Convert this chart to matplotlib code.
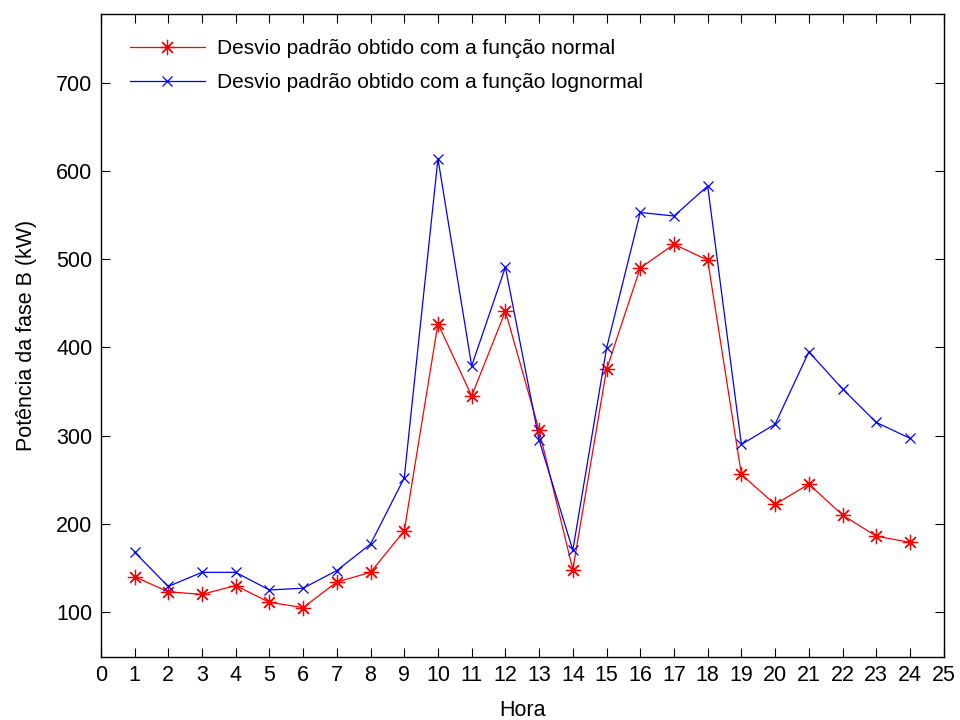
import matplotlib
matplotlib.use("Agg")
import matplotlib.pyplot as plt

hours = list(range(1, 25))
normal = [140, 123, 120, 130, 111, 105, 134, 145, 192, 427, 345, 441, 306, 148,
          375, 490, 517, 499, 256, 222, 245, 210, 186, 179]
lognormal = [168, 129, 145, 145, 125, 127, 147, 177, 252, 614, 379, 491, 295, 170,
             399, 553, 549, 583, 290, 313, 395, 353, 315, 297]
xticks = list(range(0, 26))
yticks = [100, 200, 300, 400, 500, 600, 700]

plt.rcParams['font.family'] = ['Liberation Sans', 'DejaVu Sans']

fig = plt.figure(figsize=(9.6, 7.2), dpi=100)
ax = fig.add_axes([0.105, 0.0875, 0.878, 0.893])

ax.plot(hours, normal, color='#ff0000', lw=0.9, marker=(8, 2, 0), ms=11, mew=0.9,
        label='Desvio padrão obtido com a função normal')
ax.plot(hours, lognormal, color='#0000ff', lw=0.9, marker='x', ms=7, mew=0.9,
        label='Desvio padrão obtido com a função lognormal')

ax.set_xlim(0, 25)
ax.set_ylim(49, 778)
ax.set_xticks(xticks)
ax.set_yticks(yticks)
ax.tick_params(direction='in', top=True, right=True, length=6.5, width=0.8,
               labelsize=15.5, pad=6)
for s in ax.spines.values():
    s.set_linewidth(1.0)
ax.set_xlabel('Hora', fontsize=15.5, labelpad=10)
ax.set_ylabel('Potência da fase B (kW)', fontsize=15.5, labelpad=14)

leg = ax.legend(loc='upper left', bbox_to_anchor=(0.012, 0.99), frameon=False,
                fontsize=15, handlelength=3.6, handletextpad=0.6, labelspacing=0.72)

fig.savefig('out.png', dpi=100)
